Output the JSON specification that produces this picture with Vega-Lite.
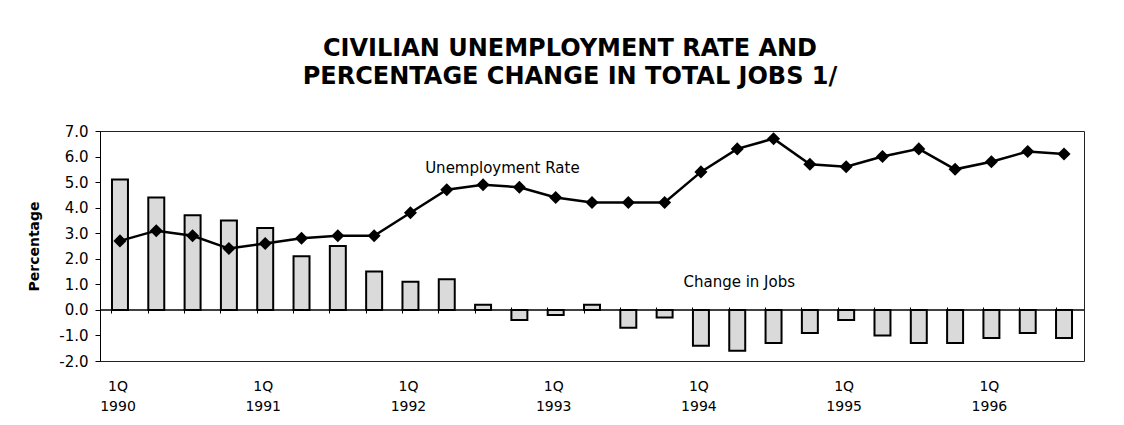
{
  "$schema": "https://vega.github.io/schema/vega-lite/v6.json",
  "width": 984,
  "height": 230,
  "autosize": {"type": "none"},
  "padding": {"left": 100, "top": 131, "right": 40, "bottom": 64},
  "background": "white",
  "config": {
    "view": {"stroke": "#222222", "strokeWidth": 1},
    "font": "DejaVu Sans",
    "locale": {"number": {"decimal": ".", "thousands": ",", "grouping": [3], "currency": ["$", ""], "minus": "-"}},
    "axisY": {
      "values": [-2, -1, 0, 1, 2, 3, 4, 5, 6, 7],
      "tickCount": 10,
      "labelOverlap": false,
      "grid": false,
      "tickSize": 5,
      "tickColor": "black",
      "domainColor": "black",
      "labelPadding": 7,
      "labelFontSize": 15,
      "labelColor": "black",
      "titleFontSize": 14,
      "titleFontWeight": "bold",
      "titleColor": "black",
      "titlePadding": 17
    }
  },
  "title": {
    "text": ["CIVILIAN UNEMPLOYMENT RATE AND", "PERCENTAGE CHANGE IN TOTAL JOBS 1/"],
    "font": "DejaVu Sans",
    "fontSize": 24,
    "fontWeight": "bold",
    "color": "black",
    "anchor": "middle",
    "dx": -22,
    "lineHeight": 28,
    "offset": 35
  },
  "datasets": {
    "main": [
      {"q": "1990Q1", "jobs": 5.1, "rate": 2.7},
      {"q": "1990Q2", "jobs": 4.4, "rate": 3.1},
      {"q": "1990Q3", "jobs": 3.7, "rate": 2.9},
      {"q": "1990Q4", "jobs": 3.5, "rate": 2.4},
      {"q": "1991Q1", "jobs": 3.2, "rate": 2.6},
      {"q": "1991Q2", "jobs": 2.1, "rate": 2.8},
      {"q": "1991Q3", "jobs": 2.5, "rate": 2.9},
      {"q": "1991Q4", "jobs": 1.5, "rate": 2.9},
      {"q": "1992Q1", "jobs": 1.1, "rate": 3.8},
      {"q": "1992Q2", "jobs": 1.2, "rate": 4.7},
      {"q": "1992Q3", "jobs": 0.2, "rate": 4.9},
      {"q": "1992Q4", "jobs": -0.4, "rate": 4.8},
      {"q": "1993Q1", "jobs": -0.2, "rate": 4.4},
      {"q": "1993Q2", "jobs": 0.2, "rate": 4.2},
      {"q": "1993Q3", "jobs": -0.7, "rate": 4.2},
      {"q": "1993Q4", "jobs": -0.3, "rate": 4.2},
      {"q": "1994Q1", "jobs": -1.4, "rate": 5.4},
      {"q": "1994Q2", "jobs": -1.6, "rate": 6.3},
      {"q": "1994Q3", "jobs": -1.3, "rate": 6.7},
      {"q": "1994Q4", "jobs": -0.9, "rate": 5.7},
      {"q": "1995Q1", "jobs": -0.4, "rate": 5.6},
      {"q": "1995Q2", "jobs": -1.0, "rate": 6.0},
      {"q": "1995Q3", "jobs": -1.3, "rate": 6.3},
      {"q": "1995Q4", "jobs": -1.3, "rate": 5.5},
      {"q": "1996Q1", "jobs": -1.1, "rate": 5.8},
      {"q": "1996Q2", "jobs": -0.9, "rate": 6.2},
      {"q": "1996Q3", "jobs": -1.1, "rate": 6.1}
    ],
    "zero": [{"z": 0}],
    "xlabels": [
      {"q": "1990Q1", "v": -2.74, "lab": "1Q 1990"},
      {"q": "1991Q1", "v": -2.74, "lab": "1Q 1991"},
      {"q": "1992Q1", "v": -2.74, "lab": "1Q 1992"},
      {"q": "1993Q1", "v": -2.74, "lab": "1Q 1993"},
      {"q": "1994Q1", "v": -2.74, "lab": "1Q 1994"},
      {"q": "1995Q1", "v": -2.74, "lab": "1Q 1995"},
      {"q": "1996Q1", "v": -2.74, "lab": "1Q 1996"}
    ],
    "notes1": [{"q": "1992Q4", "v": 5.55, "label": "Unemployment Rate"}],
    "notes2": [{"q": "1994Q2", "v": 1.09, "label": "Change in Jobs"}]
  },
  "layer": [
    {
      "data": {"name": "main"},
      "mark": {"type": "bar", "fill": "#dadada", "stroke": "black", "strokeWidth": 2},
      "encoding": {
        "x": {
          "field": "q",
          "type": "ordinal",
          "scale": {"paddingInner": 0.56, "paddingOuter": 0.33},
          "axis": {
            "title": null,
            "labels": false,
            "bandPosition": 0,
            "offset": -54,
            "domain": false,
            "tickSize": 6,
            "tickColor": "black"
          }
        },
        "y": {
          "field": "jobs",
          "type": "quantitative",
          "title": "Percentage",
          "scale": {"domain": [-2, 7], "nice": false},
          "axis": {"values": [-2, -1, 0, 1, 2, 3, 4, 5, 6, 7], "format": ".1f", "labelOverlap": false, "title": "Percentage"}
        }
      }
    },
    {
      "data": {"name": "zero"},
      "mark": {"type": "rule", "color": "black", "strokeWidth": 1.5},
      "encoding": {
        "y": {"field": "z", "type": "quantitative", "title": "Percentage",
          "axis": {"values": [-2, -1, 0, 1, 2, 3, 4, 5, 6, 7], "format": ".1f", "labelOverlap": false, "title": "Percentage"}}
      }
    },
    {
      "data": {"name": "main"},
      "mark": {"type": "line", "color": "black", "strokeWidth": 2.5},
      "encoding": {
        "x": {"field": "q", "type": "ordinal"},
        "y": {"field": "rate", "type": "quantitative", "title": "Percentage",
          "axis": {"values": [-2, -1, 0, 1, 2, 3, 4, 5, 6, 7], "format": ".1f", "labelOverlap": false, "title": "Percentage"}}
      }
    },
    {
      "data": {"name": "main"},
      "mark": {"type": "point", "shape": "diamond", "filled": true, "color": "black", "size": 170, "opacity": 1},
      "encoding": {
        "x": {"field": "q", "type": "ordinal"},
        "y": {"field": "rate", "type": "quantitative", "title": "Percentage",
          "axis": {"values": [-2, -1, 0, 1, 2, 3, 4, 5, 6, 7], "format": ".1f", "labelOverlap": false, "title": "Percentage"}}
      }
    },
    {
      "data": {"name": "xlabels"},
      "mark": {"type": "text", "fontSize": 14, "color": "black", "align": "center", "baseline": "top", "lineBreak": " ", "lineHeight": 20, "dx": -2},
      "encoding": {
        "x": {"field": "q", "type": "ordinal"},
        "y": {"field": "v", "type": "quantitative", "title": "Percentage",
          "axis": {"values": [-2, -1, 0, 1, 2, 3, 4, 5, 6, 7], "format": ".1f", "labelOverlap": false, "title": "Percentage"}},
        "text": {"field": "lab"}
      }
    },
    {
      "data": {"name": "notes1"},
      "mark": {"type": "text", "fontSize": 15, "color": "black", "align": "center", "baseline": "middle", "dx": -17},
      "encoding": {
        "x": {"field": "q", "type": "ordinal"},
        "y": {"field": "v", "type": "quantitative", "title": "Percentage",
          "axis": {"values": [-2, -1, 0, 1, 2, 3, 4, 5, 6, 7], "format": ".1f", "labelOverlap": false, "title": "Percentage"}},
        "text": {"field": "label"}
      }
    },
    {
      "data": {"name": "notes2"},
      "mark": {"type": "text", "fontSize": 15, "color": "black", "align": "center", "baseline": "middle", "dx": 2},
      "encoding": {
        "x": {"field": "q", "type": "ordinal"},
        "y": {"field": "v", "type": "quantitative", "title": "Percentage",
          "axis": {"values": [-2, -1, 0, 1, 2, 3, 4, 5, 6, 7], "format": ".1f", "labelOverlap": false, "title": "Percentage"}},
        "text": {"field": "label"}
      }
    }
  ]
}
